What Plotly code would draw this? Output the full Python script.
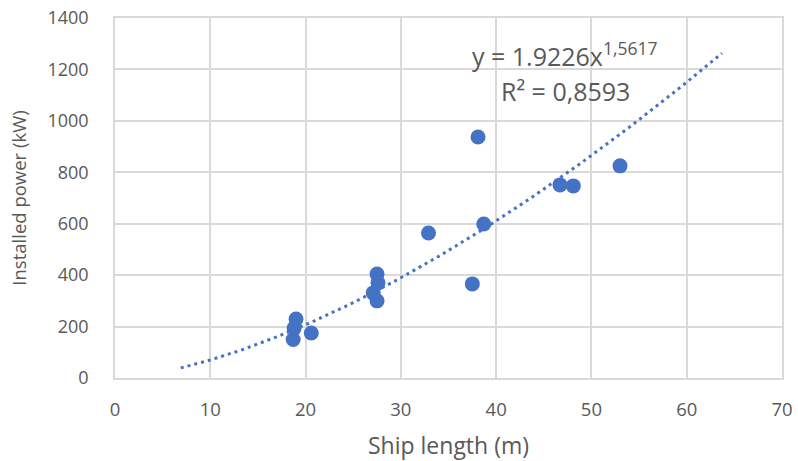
import numpy as np
import plotly.graph_objects as go

ship_length = [18.7, 18.8, 19.0, 20.6, 27.1, 27.5, 27.6, 27.5, 32.9, 37.5, 38.1, 38.7, 46.7, 48.1, 53.0]
installed_power = [150, 194, 229, 175, 331, 404, 370, 300, 564, 366, 937, 599, 751, 747, 825]

trend_coef = 1.9226
trend_exp = 1.5617
trend_range = [6.9, 63.7]
r_squared = "0,8593"

x_ticks = [0, 10, 20, 30, 40, 50, 60, 70]
y_ticks = [0, 200, 400, 600, 800, 1000, 1200, 1400]

blue = "#4472C4"
grey_text = "#595959"
grid = "#d9d9d9"
font_family = "Open Sans, Liberation Sans, sans-serif"

tx = np.linspace(trend_range[0], trend_range[1], 200)
ty = trend_coef * tx ** trend_exp

fig = go.Figure()
fig.add_trace(go.Scatter(x=tx, y=ty, mode="lines",
                         line=dict(color=blue, width=3, dash="3px,4px"),
                         hoverinfo="skip", showlegend=False))
fig.add_trace(go.Scatter(x=ship_length, y=installed_power, mode="markers",
                         marker=dict(color=blue, size=15),
                         showlegend=False))

fig.add_annotation(x=0.675, y=0.899, xref="paper", yref="paper",
                   text="y = 1.9226x<sup>1,5617</sup>", showarrow=False,
                   font=dict(family=font_family, size=25, color=grey_text),
                   xanchor="center", yanchor="middle")
fig.add_annotation(x=0.675, y=0.796, xref="paper", yref="paper",
                   text="R² = " + r_squared, showarrow=False,
                   font=dict(family=font_family, size=25, color=grey_text),
                   xanchor="center", yanchor="middle")

fig.update_layout(
    width=798, height=461,
    margin=dict(l=115, r=16, t=18, b=83),
    paper_bgcolor="white", plot_bgcolor="white",
    font=dict(family=font_family, color=grey_text),
)
fig.update_xaxes(range=[0, 70], tickvals=x_ticks, showgrid=True, gridcolor=grid, gridwidth=1.5,
                 showline=True, linecolor=grid, linewidth=1.5, mirror=True, zeroline=False,
                 automargin=False,
                 ticks="", ticklabelstandoff=14, tickfont=dict(size=18.5, color=grey_text),
                 title=dict(text="Ship length (m)", font=dict(size=23, color=grey_text), standoff=19))
fig.update_yaxes(range=[0, 1400], tickvals=y_ticks, showgrid=True, gridcolor=grid, gridwidth=1.5,
                 showline=True, linecolor=grid, linewidth=1.5, mirror=True, zeroline=False,
                 automargin=False,
                 ticks="", ticklabelstandoff=21, tickfont=dict(size=18, color=grey_text),
                 title=dict(text="Installed power (kW)", font=dict(size=18.5, color=grey_text), standoff=16))

fig.write_html("out.html")
